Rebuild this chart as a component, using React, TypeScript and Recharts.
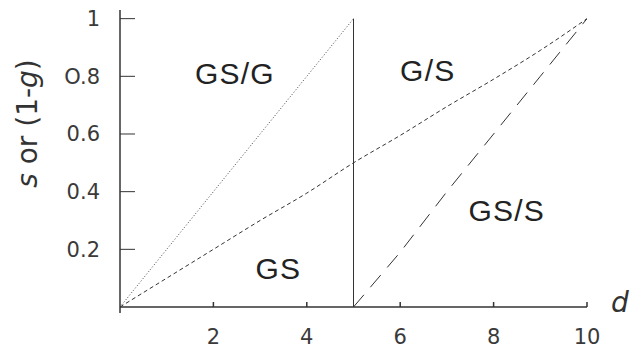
import React from 'react';
import { LineChart, Line, XAxis, YAxis, ReferenceLine, ReferenceDot, Label } from 'recharts';

// Boundary lines of the phase diagram (d on x, s or 1-g on y)
const dottedX = [0, 5];
const dottedY = [0, 1];
const shortDashX = [0, 1, 2, 3, 4, 5, 6, 7, 8, 9, 10];
const shortDashY = [0, 0.1, 0.2, 0.3, 0.395, 0.5, 0.595, 0.695, 0.79, 0.89, 1];
const longDashX = [5, 6, 7, 8, 9, 10];
const longDashY = [0, 0.19, 0.4, 0.6, 0.8, 1];
const verticalX = [5, 5];
const verticalY = [0, 1];

const xTicks = [2, 4, 6, 8, 10];
const xTickLabels = ['2', '4', '6', '8', '10'];
const yTicks = [0.2, 0.4, 0.6, 0.8, 1];
const yTickLabels = ['0.2', '0.4', '0.6', 'O.8', '1'];

// Region names and where they sit (label centres in data units)
const regionNames = ['GS/G', 'GS', 'G/S', 'GS/S'];
const regionX = [2.46, 3.39, 6.59, 8.28];
const regionY = [0.811, 0.134, 0.819, 0.334];

const zip = (xs: number[], ys: number[]) => xs.map((x, i) => ({ x, y: ys[i] }));

const INK = '#333';
const TICK_FONT = '"DejaVu Sans", sans-serif';

const XTick = (props: any) => {
  const { x, y, payload } = props;
  const idx = xTicks.indexOf(payload.value);
  return (
    <g>
      <line x1={x} x2={x} y1={y - 5} y2={y} stroke={INK} strokeWidth={1.5} />
      <text x={x} y={y + 37} textAnchor="middle" fontSize={21} fontFamily={TICK_FONT} fill="#3a3a3a">
        {xTickLabels[idx]}
      </text>
    </g>
  );
};

const YTick = (props: any) => {
  const { x, y, payload } = props;
  const idx = yTicks.indexOf(payload.value);
  return (
    <g>
      <line x1={x} x2={x + 15} y1={y} y2={y} stroke={INK} strokeWidth={1} />
      <text x={x - 20} y={y + 7.5} textAnchor="end" fontSize={21} fontFamily={TICK_FONT} fill="#3a3a3a">
        {yTickLabels[idx]}
      </text>
    </g>
  );
};

export default function App() {
  return (
    <div style={{ position: 'absolute', left: 0, top: 0, background: '#fff' }}>
      <LineChart width={634} height={350} margin={{ top: 10, right: 47, bottom: 0, left: 0 }}>
        <XAxis
          dataKey="x"
          type="number"
          domain={[0, 10]}
          ticks={xTicks}
          interval={0}
          tickSize={0}
          tickMargin={0}
          tickLine={false}
          tick={<XTick />}
          height={43}
          axisLine={{ stroke: INK, strokeWidth: 1.5 }}
          allowDataOverflow
        >
          <Label
            content={(p: any) => {
              const vb = p.viewBox;
              return (
                <text
                  x={vb.x + vb.width + 33}
                  y={vb.y + 5}
                  textAnchor="middle"
                  fontSize={28}
                  fontStyle="italic"
                  fontFamily={TICK_FONT}
                  fill={INK}
                >
                  d
                </text>
              );
            }}
          />
        </XAxis>
        <YAxis
          dataKey="y"
          type="number"
          domain={[0, 1.03]}
          ticks={yTicks}
          interval={0}
          tickSize={0}
          tickMargin={0}
          tickLine={false}
          tick={<YTick />}
          width={120}
          axisLine={false}
          allowDataOverflow
        >
          <Label
            content={(p: any) => {
              const vb = p.viewBox;
              const cx = vb.x + 37;
              const cy = vb.y + 113.5;
              return (
                <text
                  x={cx}
                  y={cy}
                  textAnchor="middle"
                  fontSize={28}
                  fontFamily={TICK_FONT}
                  fill={INK}
                  transform={`rotate(-90, ${cx}, ${cy})`}
                >
                  <tspan fontStyle="italic">s</tspan>
                  <tspan> or (1-</tspan>
                  <tspan fontStyle="italic">g</tspan>
                  <tspan>)</tspan>
                </text>
              );
            }}
          />
        </YAxis>

        {/* y axis drawn as a segment so it runs a little below zero */}
        <ReferenceLine
          segment={[{ x: 0, y: -0.021 }, { x: 0, y: 1.03 }]}
          stroke={INK}
          strokeWidth={1.5}
          ifOverflow="visible"
        />

        <Line
          data={zip(dottedX, dottedY)}
          dataKey="y"
          type="linear"
          stroke="#444"
          strokeWidth={1}
          strokeDasharray="1 2"
          dot={false}
          isAnimationActive={false}
        />
        <Line
          data={zip(shortDashX, shortDashY)}
          dataKey="y"
          type="monotone"
          stroke={INK}
          strokeWidth={1}
          strokeDasharray="4 3"
          dot={false}
          isAnimationActive={false}
        />
        <Line
          data={zip(longDashX, longDashY)}
          dataKey="y"
          type="linear"
          stroke={INK}
          strokeWidth={1}
          strokeDasharray="16 10"
          dot={false}
          isAnimationActive={false}
        />
        <Line
          data={zip(verticalX, verticalY)}
          dataKey="y"
          type="linear"
          stroke={INK}
          strokeWidth={1}
          dot={false}
          isAnimationActive={false}
        />

        {regionNames.map((name, i) => (
          <ReferenceDot
            key={name}
            x={regionX[i]}
            y={regionY[i]}
            r={0}
            shape={(p: any) => (
              <text
                x={p.cx}
                y={p.cy + 10.6}
                textAnchor="middle"
                fontSize={30}
                letterSpacing={1.2}
                fontFamily='"Liberation Sans", Arial, sans-serif'
                fill="#222"
              >
                {name}
              </text>
            )}
          />
        ))}
      </LineChart>
    </div>
  );
}
